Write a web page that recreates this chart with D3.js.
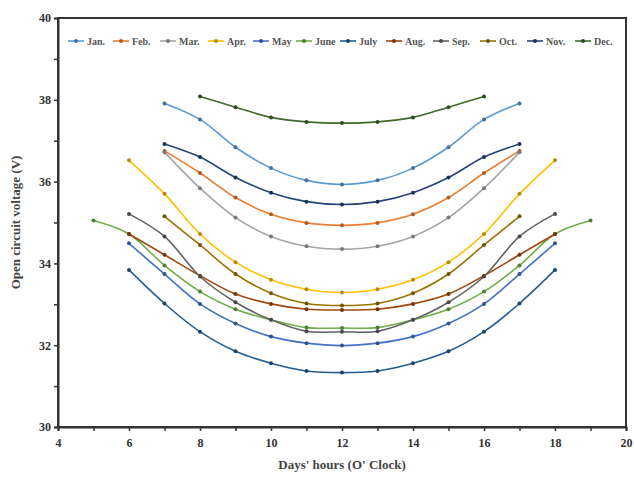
<!DOCTYPE html>
<html><head><meta charset="utf-8">
<script src="https://cdn.jsdelivr.net/npm/d3@7"></script>
<style>body{margin:0;background:#fff}svg{display:block}text{font-family:"Liberation Serif","Times New Roman",serif}</style>
</head><body><svg id="c" width="634" height="481"></svg>
<script>
const months = ["Jan.","Feb.","Mar.","Apr.","May","June","July","Aug.","Sep.","Oct.","Nov.","Dec."];
const colors = ["#5B9BD5","#ED7D31","#A5A5A5","#FFC000","#4472C4","#70AD47","#255E91","#9E480E","#636363","#997300","#264478","#43682B"];
const startHour = [7,7,7,6,6,5,6,6,6,7,7,8];
const janV = [37.91,37.52,36.84,36.33,36.03,35.93,36.03,36.33,36.84,37.52,37.91];
const febV = [36.75,36.21,35.61,35.20,34.99,34.93,34.99,35.20,35.61,36.21,36.75];
const marV = [36.72,35.84,35.12,34.66,34.42,34.35,34.42,34.66,35.12,35.84,36.72];
const aprV = [36.52,35.70,34.72,34.03,33.60,33.37,33.29,33.37,33.60,34.03,34.72,35.70,36.52];
const mayV = [34.49,33.74,33.01,32.53,32.21,32.05,31.99,32.05,32.21,32.53,33.01,33.74,34.49];
const junV = [35.05,34.72,33.95,33.31,32.88,32.62,32.43,32.42,32.43,32.62,32.88,33.31,33.95,34.72,35.05];
const julV = [33.84,33.02,32.33,31.85,31.56,31.37,31.33,31.37,31.56,31.85,32.33,33.02,33.84];
const augV = [34.72,34.21,33.70,33.25,33.01,32.88,32.86,32.88,33.01,33.25,33.70,34.21,34.72];
const sepV = [35.21,34.66,33.68,33.05,32.62,32.34,32.33,32.34,32.62,33.05,33.68,34.66,35.21];
const octV = [35.15,34.45,33.74,33.27,33.02,32.97,33.02,33.27,33.74,34.45,35.15];
const novV = [36.92,36.60,36.10,35.73,35.51,35.44,35.51,35.73,36.10,36.60,36.92];
const decV = [38.08,37.82,37.57,37.46,37.43,37.46,37.57,37.82,38.08];
const seriesValues = [janV,febV,marV,aprV,mayV,junV,julV,augV,sepV,octV,novV,decV];
const xTicks = [4,6,8,10,12,14,16,18,20];
const yTicks = [30,32,34,36,38,40];

const svg = d3.select("#c");
const L=58,R=626,T=18,B=427;
const x = d3.scaleLinear().domain([4,20]).range([L,R]);
const y = d3.scaleLinear().domain([30,40]).range([B,T]);

// frame
svg.append("rect").attr("x",L).attr("y",T).attr("width",R-L).attr("height",B-T)
  .attr("fill","none").attr("stroke","#333").attr("stroke-width",2);

// axes
const xAxis = svg.append("g").attr("transform",`translate(0,${B})`)
  .call(d3.axisBottom(x).tickValues(d3.range(4,21,1)).tickSize(4)
    .tickFormat(d=>xTicks.includes(d)?d:""));
const yAxis = svg.append("g").attr("transform",`translate(${L},0)`)
  .call(d3.axisLeft(y).tickValues(d3.range(30,40.5,1)).tickSize(4)
    .tickFormat(d=>yTicks.includes(d)?d:""));
[xAxis,yAxis].forEach(a=>{
  a.select(".domain").attr("stroke","#333").attr("stroke-width",2);
  a.selectAll(".tick line").attr("stroke","#333").attr("stroke-width",1.5);
  a.selectAll("text").attr("fill","#333").attr("font-size",12)
    .attr("font-family","'Liberation Serif',serif").attr("font-weight","bold");
});
xAxis.selectAll("text").attr("dy","1.1em");

svg.append("text").attr("x",(L+R)/2).attr("y",469).attr("text-anchor","middle")
  .attr("font-size",13).attr("font-weight","bold").attr("fill","#444")
  .text("Days' hours (O' Clock)");
svg.append("text").attr("transform",`translate(20,${(T+B)/2}) rotate(-90)`)
  .attr("text-anchor","middle").attr("font-size",13).attr("font-weight","bold").attr("fill","#444")
  .text("Open circuit voltage (V)");

const line = d3.line().x(d=>x(d[0])).y(d=>y(d[1])).curve(d3.curveCatmullRom.alpha(0.5));
seriesValues.forEach((vals,i)=>{
  const pts = vals.map((v,j)=>[startHour[i]+j,v]);
  const g = svg.append("g");
  g.append("path").attr("d",line(pts)).attr("fill","none")
    .attr("stroke",colors[i]).attr("stroke-width",1.6);
  const mc = d3.color(colors[i]).darker(0.9).formatHex();
  g.selectAll("circle").data(pts).join("circle")
    .attr("cx",d=>x(d[0])).attr("cy",d=>y(d[1])).attr("r",2)
    .attr("fill",mc);
});

// legend
const legX = [68,113,160,208,253,296,340,386,433,480,527,575];
const leg = svg.append("g");
months.forEach((m,i)=>{
  const gx = legX[i], gy = 41;
  leg.append("line").attr("x1",gx).attr("x2",gx+16).attr("y1",gy).attr("y2",gy)
    .attr("stroke",colors[i]).attr("stroke-width",1.6);
  leg.append("circle").attr("cx",gx+8).attr("cy",gy).attr("r",2)
    .attr("fill",d3.color(colors[i]).darker(0.9).formatHex());
  leg.append("text").attr("x",gx+19).attr("y",gy+3.5).attr("font-size",10)
    .attr("font-weight","bold").attr("fill","#555").text(m);
});
</script></body></html>
